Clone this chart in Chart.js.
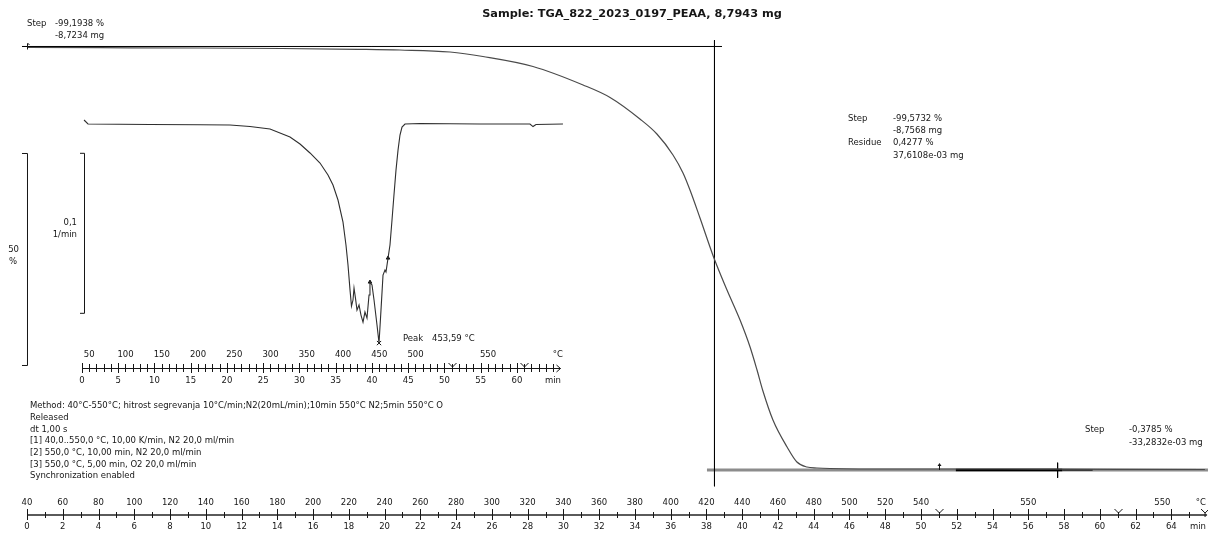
<!DOCTYPE html>
<html>
<head>
<meta charset="utf-8">
<script src="https://cdn.jsdelivr.net/npm/chart.js@4.4.1/dist/chart.umd.min.js"></script>
<style>
  html, body { margin: 0; padding: 0; background: #fff; overflow: hidden; }
  #wrap { position: relative; width: 1208px; height: 533px; }
</style>
</head>
<body>
<div id="wrap"><canvas id="c" width="1208" height="533"></canvas></div>
<script>
// TGA mass curve: time (min) against mass (%)
const tgaTime = [0, 4.08, 9.68, 14.26, 18.51, 20.86, 23.66, 25.50, 28.30, 31.10, 32.61, 34.28,
  35.23, 36.13, 36.69, 37.08, 37.64, 38.42, 39.15, 39.88, 40.44, 40.83, 41.16, 41.72, 42.51, 43.06,
  43.62, 44.18, 44.91, 48.83, 54.42, 57.77, 65.88];
const tgaMass = [99.88, 99.83, 99.76, 99.65, 99.46, 99.29, 98.82, 97.76, 95.40, 91.04, 88.09, 83.02,
  79.48, 74.53, 70.28, 66.27, 59.67, 50.24, 42.69, 35.61, 29.25, 23.82, 18.87, 12.03, 5.66, 2.12,
  0.94, 0.71, 0.59, 0.47, 0.47, 0.42, 0.35];

// DTG curve: time (min) against normalised rate (1/min)
const dtgTime = [0.28, 0.83, 9.38, 16.28, 20.41, 23.17, 25.93, 28.69, 30.07, 31.45, 32.83, 33.93, 34.62,
  35.31, 36.00, 36.41, 36.69, 36.97, 37.17, 37.38, 37.52, 37.72, 37.93, 38.21, 38.48, 38.76, 39.03,
  39.31, 39.59, 39.72, 40.00, 40.28, 40.69, 40.97, 41.24, 41.52, 41.79, 41.93, 42.21, 42.48, 42.76,
  43.03, 43.31, 43.59, 43.86, 44.14, 44.55, 46.62, 54.90, 61.79, 62.21, 62.62, 66.34];
const dtgRate = [0.0025, 0, -0.0003, -0.0005, -0.0006, -0.0016, -0.0031, -0.0081, -0.0125, -0.0181, -0.0244,
  -0.0319, -0.0381, -0.0475, -0.0613, -0.0756, -0.0881, -0.1038, -0.1138, -0.1100, -0.1025, -0.1088,
  -0.1163, -0.1131, -0.1194, -0.1238, -0.1175, -0.1213, -0.1069, -0.0988, -0.1006, -0.1100, -0.1256,
  -0.1369, -0.1163, -0.0944, -0.0913, -0.0925, -0.0838, -0.0756, -0.0600, -0.0444, -0.0288, -0.0163,
  -0.0069, -0.0019, 0, 0.0003, 0, 0, -0.0016, -0.0003, 0];

// Step evaluation: tangent levels (%) and their time spans (min)
const stepUpperTime = [-0.28, 38.87];
const stepUpperMass = [100.12, 100.12];
const stepLowerTime = [38.03, 66.05];
const stepLowerMass = [0.24, 0.24];
const stepResidueTime = [51.95, 57.9];
const stepResidueTail = [57.9, 59.6];
const stepMidTime = [38.45, 38.45];
const stepMidMass = [101.6, -3.6];
const stepCrossTime = [57.64, 57.64];
const stepCrossMass = [1.95, -1.6];

// Time axis (min) and temperature labels (°C) of the main ruler
const mainTimeTicks = [0, 2, 4, 6, 8, 10, 12, 14, 16, 18, 20, 22, 24, 26, 28, 30, 32, 34, 36, 38, 40,
  42, 44, 46, 48, 50, 52, 54, 56, 58, 60, 62, 64];
const mainTempAt = [0, 2, 4, 6, 8, 10, 12, 14, 16, 18, 20, 22, 24, 26, 28, 30, 32, 34, 36, 38, 40, 42,
  44, 46, 48, 50, 56, 63.5];
const mainTempLabels = ['40', '60', '80', '100', '120', '140', '160', '180', '200', '220', '240', '260',
  '280', '300', '320', '340', '360', '380', '400', '420', '440', '460', '480', '500', '520', '540',
  '550', '550'];

// Time axis (min) and temperature labels (°C) of the DTG ruler
const insetTimeTicks = [0, 5, 10, 15, 20, 25, 30, 35, 40, 45, 50, 55, 60];
const insetTempAt = [1, 6, 11, 16, 21, 26, 31, 36, 41, 46, 56];
const insetTempLabels = ['50', '100', '150', '200', '250', '300', '350', '400', '450', '500', '550'];

// Segment boundaries of the temperature program (min)
const segmentEnds = [51, 61];
const programEnd = 66;

const methodLines = [
  'Method: 40°C-550°C; hitrost segrevanja 10°C/min;N2(20mL/min);10min 550°C N2;5min 550°C O',
  'Released',
  'dt 1,00 s',
  '[1] 40,0..550,0 °C, 10,00 K/min, N2 20,0 ml/min',
  '[2] 550,0 °C, 10,00 min, N2 20,0 ml/min',
  '[3] 550,0 °C, 5,00 min, O2 20,0 ml/min',
  'Synchronization enabled'
];

const pts = (xs, ys) => xs.map((x, i) => ({ x, y: ys[i] }));

// DTG peak located from the data
let peakIdx = 0;
dtgRate.forEach((v, i) => { if (v < dtgRate[peakIdx]) peakIdx = i; });
const limitIdx = [29, 38];

const FONT = '"DejaVu Sans", sans-serif';
const INK = '#161616';

const rulers = {
  id: 'rulers',
  afterDatasetsDraw(chart) {
    const { ctx } = chart;
    const sx = chart.scales.x, sy = chart.scales.y;
    const ix = chart.scales.xi, iy = chart.scales.yi;
    ctx.save();
    ctx.fillStyle = INK;
    ctx.strokeStyle = INK;
    ctx.textBaseline = 'middle';

    // title
    ctx.font = 'bold 11.3px ' + FONT;
    ctx.textAlign = 'center';
    ctx.fillText('Sample: TGA_822_2023_0197_PEAA, 8,7943 mg', 632, 14);

    ctx.font = '8.5px ' + FONT;
    ctx.textAlign = 'left';
    // step annotations
    ctx.fillText('Step', 27, 24);
    ctx.fillText('-99,1938 %', 55, 24);
    ctx.fillText('-8,7234 mg', 55, 36);
    ctx.fillText('Step', 848, 119);
    ctx.fillText('-99,5732 %', 893, 119);
    ctx.fillText('-8,7568 mg', 893, 131);
    ctx.fillText('Residue', 848, 143);
    ctx.fillText('0,4277 %', 893, 143);
    ctx.fillText('37,6108e-03 mg', 893, 156);
    ctx.fillText('Step', 1085, 430);
    ctx.fillText('-0,3785 %', 1129, 430);
    ctx.fillText('-33,2832e-03 mg', 1129, 443);

    // method block
    methodLines.forEach((l, i) => ctx.fillText(l, 30, 406 + i * 11.7));

    // peak label
    ctx.fillText('Peak', 403, 339);
    ctx.fillText('453,59 °C', 432, 339);

    // scale bar for mass
    const bx = sx.getPixelForValue(0);
    const b1 = sy.getPixelForValue(75), b2 = sy.getPixelForValue(25);
    ctx.lineWidth = 1;
    ctx.beginPath();
    ctx.moveTo(bx - 5, b1 + 0.5); ctx.lineTo(bx + 0.5, b1 + 0.5); ctx.lineTo(bx + 0.5, b2 + 0.5); ctx.lineTo(bx - 5, b2 + 0.5);
    ctx.stroke();
    ctx.textAlign = 'right';
    ctx.fillText('50', 19, 250);
    ctx.fillText('%', 17, 262);

    // scale bar for DTG
    const dx = 84;
    const d1 = iy.getPixelForValue(-0.018), d2 = iy.getPixelForValue(-0.118);
    ctx.beginPath();
    ctx.moveTo(dx - 4, d1 + 0.5); ctx.lineTo(dx + 0.5, d1 + 0.5); ctx.lineTo(dx + 0.5, d2 + 0.5); ctx.lineTo(dx - 4, d2 + 0.5);
    ctx.stroke();
    ctx.fillText('0,1', 77, 223);
    ctx.fillText('1/min', 77, 235);

    // --- main ruler ---
    const ay = 515;
    const x0 = sx.getPixelForValue(0), xEnd = sx.getPixelForValue(programEnd);
    ctx.strokeStyle = '#5a5a5a';
    ctx.lineWidth = 2;
    ctx.beginPath(); ctx.moveTo(x0, ay); ctx.lineTo(xEnd, ay); ctx.stroke();
    ctx.strokeStyle = INK;
    ctx.lineWidth = 1;
    for (let t = 0; t < programEnd; t++) {
      const px = Math.round(sx.getPixelForValue(t)) + 0.5;
      const major = mainTimeTicks.includes(t);
      ctx.beginPath();
      ctx.moveTo(px, ay - (major ? 6 : 3));
      ctx.lineTo(px, ay + (major ? 5 : 3));
      ctx.stroke();
    }
    const yMark = (px, y) => {
      ctx.beginPath();
      ctx.moveTo(px - 4, y - 6); ctx.lineTo(px, y - 2); ctx.lineTo(px + 4, y - 6);
      ctx.moveTo(px, y - 2); ctx.lineTo(px, y + 2);
      ctx.stroke();
    };
    segmentEnds.forEach(t => yMark(Math.round(sx.getPixelForValue(t)) + 0.5, ay));
    yMark(xEnd - 2, ay);
    ctx.textAlign = 'center';
    mainTempLabels.forEach((l, i) => ctx.fillText(l, sx.getPixelForValue(mainTempAt[i]), 503));
    mainTimeTicks.forEach(t => ctx.fillText(String(t), sx.getPixelForValue(t), 527));
    ctx.textAlign = 'right';
    ctx.fillText('°C', 1206, 503);
    ctx.fillText('min', 1206, 527);

    // --- DTG ruler ---
    const iyAx = 368;
    const i0 = ix.getPixelForValue(0), iEnd = ix.getPixelForValue(programEnd);
    ctx.lineWidth = 1;
    ctx.beginPath(); ctx.moveTo(i0, iyAx + 0.5); ctx.lineTo(iEnd, iyAx + 0.5); ctx.stroke();
    for (let t = 0; t < programEnd; t++) {
      const px = Math.round(ix.getPixelForValue(t)) + 0.5;
      const major = insetTimeTicks.includes(t);
      ctx.beginPath();
      ctx.moveTo(px, iyAx - (major ? 5 : 4));
      ctx.lineTo(px, iyAx + (major ? 5 : 4));
      ctx.stroke();
    }
    segmentEnds.forEach(t => yMark(Math.round(ix.getPixelForValue(t)) + 0.5, iyAx + 1));
    ctx.beginPath();
    ctx.moveTo(iEnd - 4, iyAx - 3); ctx.lineTo(iEnd, iyAx + 0.5); ctx.lineTo(iEnd - 4, iyAx + 4);
    ctx.stroke();
    ctx.textAlign = 'center';
    insetTempLabels.forEach((l, i) => ctx.fillText(l, ix.getPixelForValue(insetTempAt[i]), 355));
    insetTimeTicks.forEach(t => ctx.fillText(String(t), ix.getPixelForValue(t), 381));
    ctx.textAlign = 'right';
    ctx.fillText('°C', 563, 355);
    ctx.fillText('min', 561, 381);

    // start marker of the TGA step
    const sxp = Math.round(sx.getPixelForValue(0)) + 0.5, syp = sy.getPixelForValue(stepUpperMass[0]);
    ctx.beginPath(); ctx.moveTo(sxp, syp - 3); ctx.lineTo(sxp, syp + 3); ctx.stroke();
    ctx.beginPath(); ctx.moveTo(sxp, syp - 3); ctx.lineTo(sxp + 2, syp - 2); ctx.stroke();

    // residue evaluation start marker
    const rx = Math.round(sx.getPixelForValue(51)) + 0.5, ry = sy.getPixelForValue(stepLowerMass[0]);
    ctx.beginPath(); ctx.moveTo(rx, ry); ctx.lineTo(rx, ry - 6); ctx.stroke();
    ctx.beginPath(); ctx.moveTo(rx - 2, ry - 4); ctx.lineTo(rx, ry - 7); ctx.lineTo(rx + 2, ry - 4); ctx.closePath(); ctx.fill();

    ctx.restore();
  }
};

const line = (data, xAxisID, yAxisID, extra) => Object.assign({
  data, xAxisID, yAxisID, borderColor: '#111', borderWidth: 1, pointRadius: 0, tension: 0, fill: false
}, extra);

new Chart(document.getElementById('c'), {
  type: 'line',
  data: {
    datasets: [
      line(pts(tgaTime, tgaMass), 'x', 'y', { borderColor: '#4a4a4a', borderWidth: 1.2, cubicInterpolationMode: 'monotone' }),
      line(pts(dtgTime, dtgRate), 'xi', 'yi', { borderColor: '#2e2e2e', borderWidth: 1.1 }),
      line([{ x: dtgTime[peakIdx], y: dtgRate[peakIdx] }], 'xi', 'yi', { showLine: false, pointRadius: 3, pointStyle: 'crossRot', pointBorderColor: '#111', pointBorderWidth: 1 }),
      line(limitIdx.map(i => ({ x: dtgTime[i], y: dtgRate[i] })), 'xi', 'yi', { showLine: false, pointRadius: 2, pointStyle: 'triangle', pointBackgroundColor: '#111', pointBorderColor: '#111' }),
      line(pts(stepUpperTime, stepUpperMass), 'x', 'y', { borderColor: '#000', borderWidth: 1 }),
      line(pts(stepMidTime, stepMidMass), 'x', 'y', { borderColor: '#000', borderWidth: 1 }),
      line(pts(stepCrossTime, stepCrossMass), 'x', 'y', { borderColor: '#000', borderWidth: 1 }),
      line(pts(stepResidueTime, stepLowerMass), 'x', 'y', { borderColor: '#000', borderWidth: 2.6 }),
      line(pts(stepResidueTail, stepLowerMass), 'x', 'y', { borderColor: '#000', borderWidth: 1.2 }),
      line(pts(stepLowerTime, stepLowerMass), 'x', 'y', { borderColor: '#8c8c8c', borderWidth: 3 })
    ]
  },
  options: {
    responsive: false,
    animation: false,
    events: [],
    layout: { padding: 0, autoPadding: false },
    plugins: { legend: { display: false }, tooltip: { enabled: false } },
    scales: {
      x:  { type: 'linear', display: false, bounds: 'data', min: -1.510, max: 66.052 },
      y:  { type: 'linear', display: false, bounds: 'data', min: -14.623, max: 111.085 },
      xi: { type: 'linear', display: false, bounds: 'data', min: -11.310, max: 155.310 },
      yi: { type: 'linear', display: false, bounds: 'data', min: -0.2556, max: 0.0775 }
    }
  },
  plugins: [rulers]
});
</script>
</body>
</html>
